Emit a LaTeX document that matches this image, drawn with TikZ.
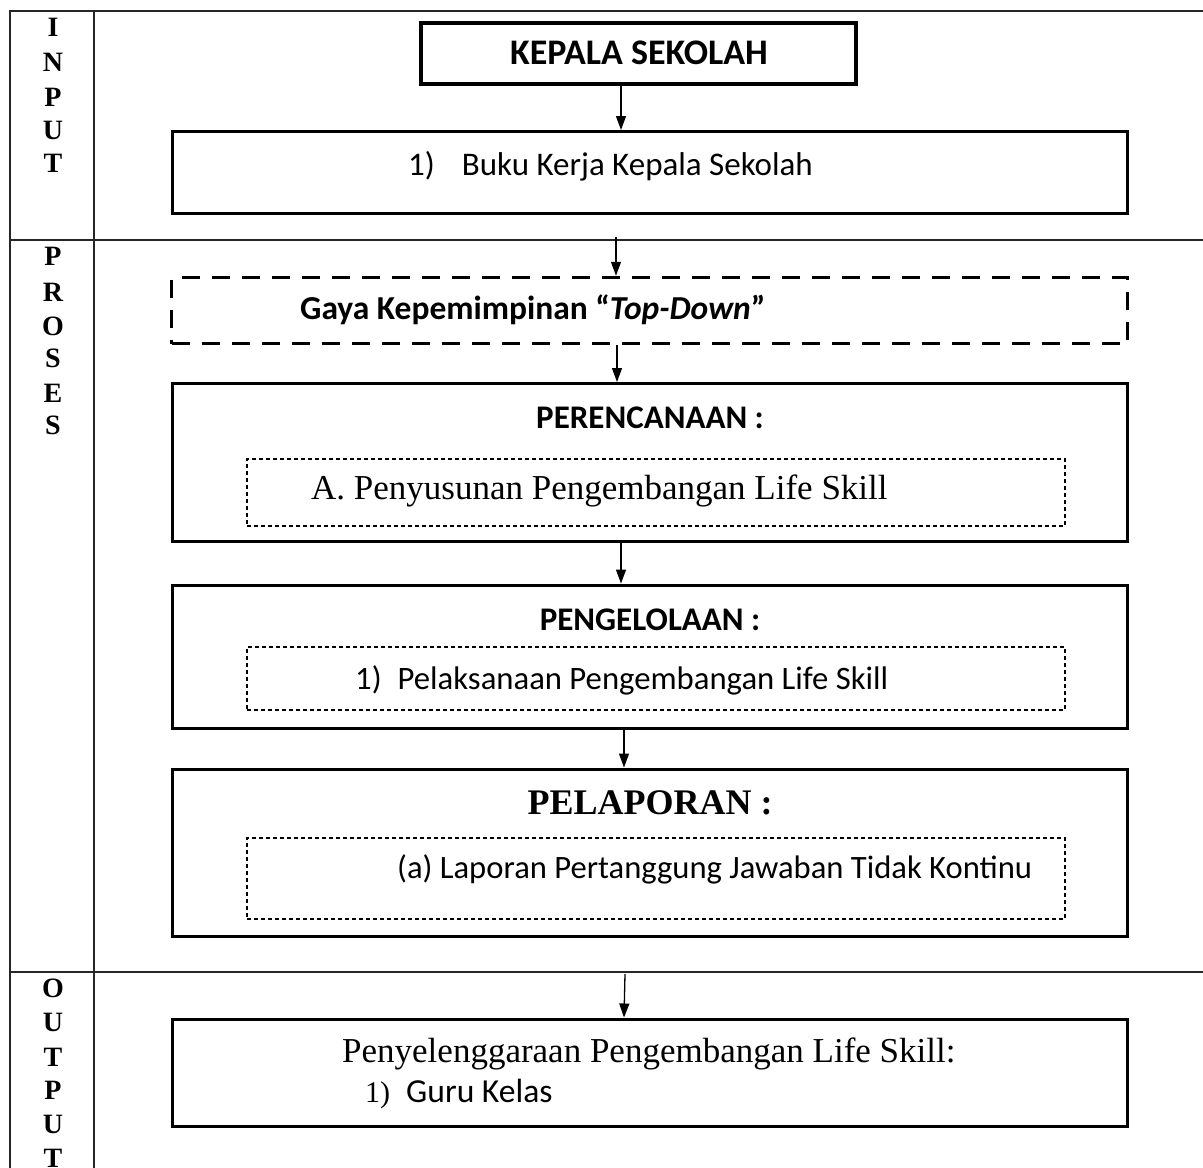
\documentclass[tikz,border=0pt]{standalone}
\usepackage{fontspec}
\setmainfont{Liberation Serif}
\newfontfamily\calfont{Carlito}
\usetikzlibrary{arrows.meta}
\begin{document}
\begin{tikzpicture}[x=1pt,y=-1pt,
  frame/.style={line width=1.6pt,draw=black!85},
  solidbox/.style={draw=black,line width=3pt},
  thickbox/.style={draw=black,line width=4.5pt},
  bigdash/.style={draw=black,line width=3.5pt,dash pattern=on 18pt off 12pt},
  smalldash/.style={draw=black,line width=1.2pt,dash pattern=on 4pt off 3pt},
  arr/.style={line width=1.3pt,-{Triangle[width=10pt,length=14pt]}},
  letter/.style={font=\fontsize{28}{34}\selectfont\bfseries,inner sep=0pt},
  txt/.style={inner sep=0pt,anchor=west}]
\useasboundingbox (0,0) rectangle (1203,1168);
% table frame
\draw[frame] (1203,11) -- (10,11) -- (10,1168);
\draw[frame] (94,11) -- (94,1168);
\draw[frame] (10,240) -- (1203,240);
\draw[frame] (10,972) -- (1203,972);
% column letters
\foreach \l/\y [count=\i] in {I/27,N/62,P/97,U/130,T/163} \node[letter] (in\i) at (53,\y) {\l};
\foreach \l/\y [count=\i] in {P/256,R/292,O/326,S/358,E/393,S/425} \node[letter] (pr\i) at (53,\y) {\l};
\foreach \l/\y [count=\i] in {O/988,U/1022,T/1057,P/1090,U/1124,T/1158} \node[letter] (out\i) at (53,\y) {\l};
% boxes
\node[thickbox,minimum width=435pt,minimum height=61pt,inner sep=0pt] (kepala) at (638.5,53.5) {};
\node[inner sep=0pt,font=\calfont\bfseries\fontsize{36}{40}\selectfont] (kepalat) at (639,53) {KEPALA SEKOLAH};
\node[solidbox,minimum width=955pt,minimum height=82pt,inner sep=0pt] (buku) at (650,172.5) {};
\node[txt,font=\calfont\fontsize{33}{36}\selectfont] (bukut) at (408,166) {1)\hspace{27pt}Buku Kerja Kepala Sekolah};
\coordinate (l1) at (616,237);
\node[bigdash,minimum width=956pt,minimum height=66pt,inner sep=0pt] (gaya) at (649.5,310.5) {};
\node[txt,font=\calfont\bfseries\fontsize{33.5}{36}\selectfont] (gayat) at (300,310) {Gaya Kepemimpinan “\textit{Top-Down}”};
\node[solidbox,minimum width=955pt,minimum height=158pt,inner sep=0pt] (renc) at (650,462.5) {};
\node[inner sep=0pt,font=\calfont\bfseries\fontsize{33}{36}\selectfont] (renct) at (650,418) {PERENCANAAN :};
\node[smalldash,minimum width=818pt,minimum height=67pt,inner sep=0pt] (rencd) at (656,492.5) {};
\node[txt,font=\fontsize{35}{38}\selectfont] (rencdt) at (311,491) {A. Penyusunan Pengembangan Life Skill};
\node[solidbox,minimum width=955pt,minimum height=143pt,inner sep=0pt] (peng) at (650,656.5) {};
\node[inner sep=0pt,font=\calfont\bfseries\fontsize{33}{36}\selectfont] (pengt) at (650,620) {PENGELOLAAN :};
\node[smalldash,minimum width=818pt,minimum height=63pt,inner sep=0pt] (pengd) at (656,678.5) {};
\node[txt,font=\calfont\fontsize{32.7}{36}\selectfont] (pengdt) at (355,680) {1)\hspace{16pt}Pelaksanaan Pengembangan Life Skill};
\node[solidbox,minimum width=955pt,minimum height=167pt,inner sep=0pt] (lap) at (650,852.5) {};
\node[inner sep=0pt,font=\bfseries\fontsize{36}{40}\selectfont] (lapt) at (650,803) {PELAPORAN :};
\node[smalldash,minimum width=818pt,minimum height=81pt,inner sep=0pt] (lapd) at (656,878.5) {};
\node[txt,font=\calfont\fontsize{32.6}{36}\selectfont] (lapdt) at (397,869) {(a) Laporan Pertanggung Jawaban Tidak Kontinu};
\coordinate (l2) at (625,974);
\node[solidbox,minimum width=955pt,minimum height=107pt,inner sep=0pt] (outb) at (650,1072.5) {};
\node[txt,font=\fontsize{35}{38}\selectfont] (outt) at (342,1054) {Penyelenggaraan Pengembangan Life Skill:};
\node[txt,font=\fontsize{30}{34}\selectfont] (outt2) at (365,1094) {1)\hspace{16pt}{\calfont\fontsize{33.6}{36}\selectfont Guru Kelas}};
% arrows
\draw[arr] (kepala.south -| 621,0) -- (buku.north -| 621,0);
\draw[arr] (l1) -- (gaya.north -| l1);
\draw[arr] (gaya.south -| 617,0) -- (renc.north -| 617,0);
\draw[arr] (renc.south -| 621,0) -- (peng.north -| 621,0);
\draw[arr] (peng.south -| 624,0) -- (lap.north -| 624,0);
\draw[arr] (l2) -- (outb.north -| 624,0);
\end{tikzpicture}
\end{document}
